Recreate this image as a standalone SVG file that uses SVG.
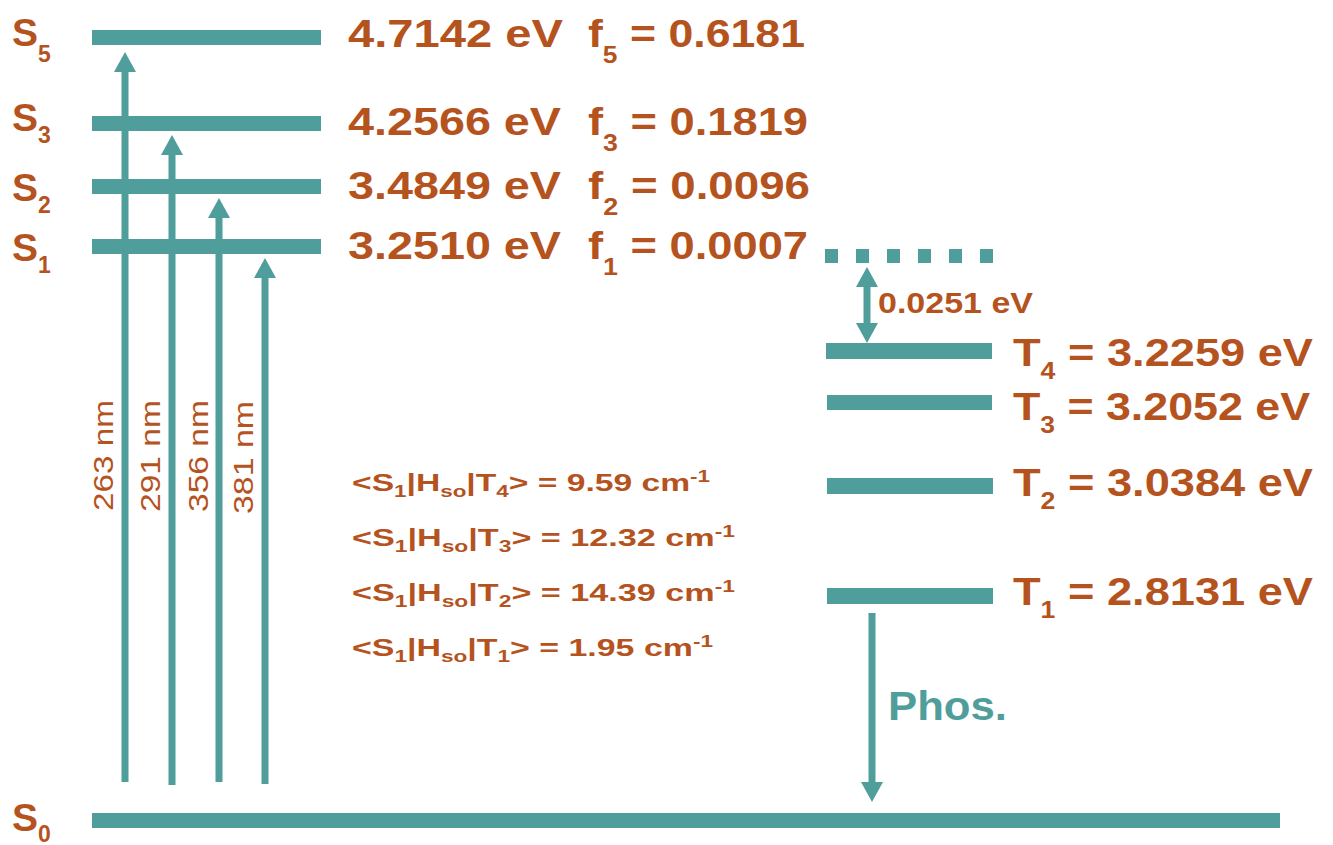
<svg xmlns="http://www.w3.org/2000/svg" width="1333" height="845" viewBox="0 0 1333 845">
<style>
text{font-family:"Liberation Sans",Arial,sans-serif;fill:#B5531F;font-weight:bold}
.lvl{fill:#4F9E9B}
.big{font-size:39px}
.sub{font-size:23px}
.mx{font-size:24px}
.msub{font-size:16px}
.nm{font-size:27px;font-weight:normal}
.arr{stroke:#4F9E9B;stroke-width:7;fill:none}
.teal{fill:#4F9E9B}
</style>
<defs>
<marker id="ah" markerUnits="userSpaceOnUse" markerWidth="20" markerHeight="22" refX="0" refY="11" orient="auto-start-reverse" viewBox="0 0 20 22">
<path d="M0,0 L20,11 L0,22 z" fill="#4F9E9B"/>
</marker>
</defs>
<rect width="1333" height="845" fill="#ffffff"/>

<g id="S5">
<rect class="lvl" x="92" y="30" width="229" height="15"/>
<text class="big" x="12" y="46">S<tspan class="sub" dy="16">5</tspan></text>
<text class="big" x="348" y="47" textLength="215" lengthAdjust="spacingAndGlyphs">4.7142 eV</text>
<text class="big" x="588" y="47" textLength="217" lengthAdjust="spacingAndGlyphs">f<tspan class="sub" dy="16">5</tspan><tspan dy="-16"> = 0.6181</tspan></text>
</g>
<g id="S3">
<rect class="lvl" x="92" y="116" width="229" height="15"/>
<text class="big" x="12" y="131">S<tspan class="sub" dy="12">3</tspan></text>
<text class="big" x="348" y="135" textLength="213" lengthAdjust="spacingAndGlyphs">4.2566 eV</text>
<text class="big" x="588" y="135" textLength="220" lengthAdjust="spacingAndGlyphs">f<tspan class="sub" dy="16">3</tspan><tspan dy="-16"> = 0.1819</tspan></text>
</g>
<g id="S2">
<rect class="lvl" x="92" y="179" width="229" height="15"/>
<text class="big" x="12" y="201">S<tspan class="sub" dy="12">2</tspan></text>
<text class="big" x="348" y="199" textLength="213" lengthAdjust="spacingAndGlyphs">3.4849 eV</text>
<text class="big" x="588" y="199" textLength="222" lengthAdjust="spacingAndGlyphs">f<tspan class="sub" dy="16">2</tspan><tspan dy="-16"> = 0.0096</tspan></text>
</g>
<g id="S1">
<rect class="lvl" x="92" y="239" width="229" height="15"/>
<text class="big" x="12" y="261">S<tspan class="sub" dy="12">1</tspan></text>
<text class="big" x="348" y="259" textLength="213" lengthAdjust="spacingAndGlyphs">3.2510 eV</text>
<text class="big" x="588" y="259" textLength="220" lengthAdjust="spacingAndGlyphs">f<tspan class="sub" dy="16">1</tspan><tspan dy="-16"> = 0.0007</tspan></text>
</g>
<g id="S1dots">
<rect class="lvl" x="825" y="249" width="13" height="14"/>
<rect class="lvl" x="856" y="249" width="13" height="14"/>
<rect class="lvl" x="887" y="249" width="13" height="14"/>
<rect class="lvl" x="918" y="249" width="13" height="14"/>
<rect class="lvl" x="949" y="249" width="13" height="14"/>
<rect class="lvl" x="980" y="249" width="13" height="14"/>
</g>
<g id="S0">
<rect class="lvl" x="92" y="813" width="1188" height="15"/>
<text class="big" x="12" y="831">S<tspan class="sub" dy="11">0</tspan></text>
</g>
<g id="T4">
<rect class="lvl" x="826" y="343" width="166" height="16"/>
<text class="big" x="1013" y="366" textLength="300" lengthAdjust="spacingAndGlyphs">T<tspan class="sub" dy="13">4</tspan><tspan dy="-13"> = 3.2259 eV</tspan></text>
</g>
<g id="T3">
<rect class="lvl" x="827" y="395" width="165" height="15"/>
<text class="big" x="1013" y="420" textLength="297" lengthAdjust="spacingAndGlyphs">T<tspan class="sub" dy="13">3</tspan><tspan dy="-13"> = 3.2052 eV</tspan></text>
</g>
<g id="T2">
<rect class="lvl" x="827" y="478" width="166" height="16"/>
<text class="big" x="1013" y="496" textLength="300" lengthAdjust="spacingAndGlyphs">T<tspan class="sub" dy="13">2</tspan><tspan dy="-13"> = 3.0384 eV</tspan></text>
</g>
<g id="T1">
<rect class="lvl" x="827" y="588" width="166" height="16"/>
<text class="big" x="1013" y="605" textLength="300" lengthAdjust="spacingAndGlyphs">T<tspan class="sub" dy="13">1</tspan><tspan dy="-13"> = 2.8131 eV</tspan></text>
</g>
<g id="soc">
<text class="mx" x="352" y="491" textLength="358" lengthAdjust="spacingAndGlyphs">&lt;S<tspan class="msub" dy="6">1</tspan><tspan dy="-6">|H</tspan><tspan class="msub" dy="6">so</tspan><tspan dy="-6">|T</tspan><tspan class="msub" dy="6">4</tspan><tspan dy="-6">&gt; = 9.59 cm</tspan><tspan class="msub" dy="-9">-1</tspan></text>
<text class="mx" x="352" y="546" textLength="383" lengthAdjust="spacingAndGlyphs">&lt;S<tspan class="msub" dy="6">1</tspan><tspan dy="-6">|H</tspan><tspan class="msub" dy="6">so</tspan><tspan dy="-6">|T</tspan><tspan class="msub" dy="6">3</tspan><tspan dy="-6">&gt; = 12.32 cm</tspan><tspan class="msub" dy="-9">-1</tspan></text>
<text class="mx" x="352" y="601" textLength="383" lengthAdjust="spacingAndGlyphs">&lt;S<tspan class="msub" dy="6">1</tspan><tspan dy="-6">|H</tspan><tspan class="msub" dy="6">so</tspan><tspan dy="-6">|T</tspan><tspan class="msub" dy="6">2</tspan><tspan dy="-6">&gt; = 14.39 cm</tspan><tspan class="msub" dy="-9">-1</tspan></text>
<text class="mx" x="352" y="656" textLength="361" lengthAdjust="spacingAndGlyphs">&lt;S<tspan class="msub" dy="6">1</tspan><tspan dy="-6">|H</tspan><tspan class="msub" dy="6">so</tspan><tspan dy="-6">|T</tspan><tspan class="msub" dy="6">1</tspan><tspan dy="-6">&gt; = 1.95 cm</tspan><tspan class="msub" dy="-9">-1</tspan></text>
</g>
<g id="connectors">
<line class="arr" x1="125" y1="782" x2="125" y2="72" marker-end="url(#ah)"/>
<line class="arr" x1="172" y1="785" x2="172" y2="155" marker-end="url(#ah)"/>
<line class="arr" x1="219" y1="782" x2="219" y2="218" marker-end="url(#ah)"/>
<line class="arr" x1="265" y1="784" x2="265" y2="278" marker-end="url(#ah)"/>
<line class="arr" x1="867" y1="287" x2="867" y2="323" marker-start="url(#ah)" marker-end="url(#ah)"/>
<line class="arr" x1="872" y1="613" x2="872" y2="782" marker-end="url(#ah)"/>
</g>
<g id="labels">
<text class="nm" transform="translate(113,511) rotate(-90)" textLength="111" lengthAdjust="spacingAndGlyphs">263 nm</text>
<text class="nm" transform="translate(160,512) rotate(-90)" textLength="112" lengthAdjust="spacingAndGlyphs">291 nm</text>
<text class="nm" transform="translate(208,512) rotate(-90)" textLength="112" lengthAdjust="spacingAndGlyphs">356 nm</text>
<text class="nm" transform="translate(253,514) rotate(-90)" textLength="113" lengthAdjust="spacingAndGlyphs">381 nm</text>
<text x="878" y="313" style="font-size:30px" textLength="155" lengthAdjust="spacingAndGlyphs">0.0251 eV</text>
<text class="teal" x="888" y="720" style="font-size:40px" textLength="119" lengthAdjust="spacingAndGlyphs">Phos.</text>
</g>
</svg>
